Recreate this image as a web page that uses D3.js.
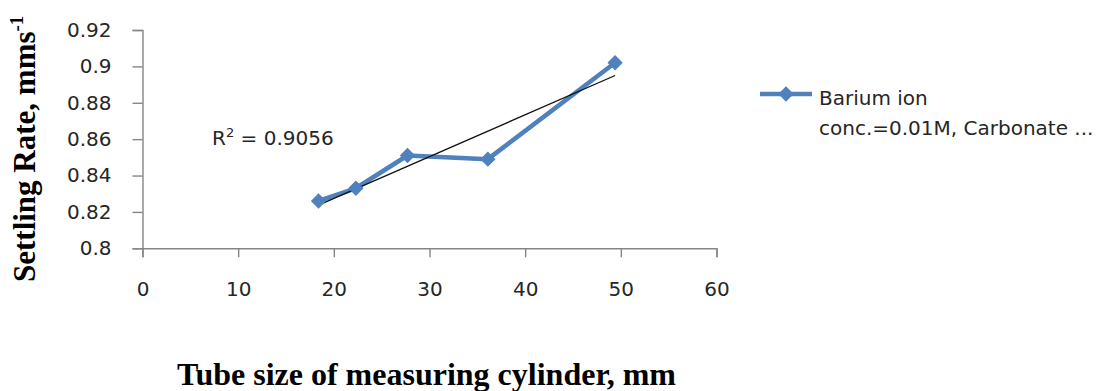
<!DOCTYPE html>
<html>
<head>
<meta charset="utf-8">
<script src="https://cdn.jsdelivr.net/npm/d3@7"></script>
<style>
  body { margin: 0; background: #fff; }
  svg { display: block; }
</style>
</head>
<body>
<svg id="chart" width="1103" height="391"></svg>
<script>
// values
var tubeSize = [18.4, 22.3, 27.7, 36.1, 49.4];
var settlingRate = [0.826, 0.833, 0.851, 0.849, 0.902];
var xTicks = [0, 10, 20, 30, 40, 50, 60];
var yTicks = [0.8, 0.82, 0.84, 0.86, 0.88, 0.9, 0.92];
var seriesName = ["Barium ion", "conc.=0.01M, Carbonate ..."];
var r2Label = "0.9056";

var blue = "#4F81BD";
var axisGray = "#868686";
var sans = "'DejaVu Sans', Verdana, sans-serif";
var serif = "'Liberation Serif', 'DejaVu Serif', serif";

var svg = d3.select("#chart");

var x = d3.scaleLinear().domain([0, 60]).range([142.5, 716.5]);
var y = d3.scaleLinear().domain([0.8, 0.92]).range([248.3, 30]);

// y axis
var yAxis = d3.axisLeft(y).tickValues(yTicks).tickSize(10).tickSizeOuter(10).tickPadding(21)
    .tickFormat(function(d) { return String(+d.toFixed(2)); });
var gy = svg.append("g").attr("transform", "translate(" + x(0) + ",0)").call(yAxis);
gy.select(".domain").attr("stroke", axisGray).attr("stroke-width", 1.4);
gy.selectAll(".tick line").attr("stroke", axisGray).attr("stroke-width", 1.4);
gy.selectAll(".tick text").style("font-family", sans).style("font-size", "20px").attr("fill", "#262626");

// x axis
var xAxis = d3.axisBottom(x).tickValues(xTicks).tickSize(9).tickSizeOuter(9).tickPadding(25);
var gx = svg.append("g").attr("transform", "translate(0," + y(0.8) + ")").call(xAxis);
gx.select(".domain").attr("stroke", axisGray).attr("stroke-width", 1.4);
gx.selectAll(".tick line").attr("stroke", axisGray).attr("stroke-width", 1.4);
gx.selectAll(".tick text").style("font-family", sans).style("font-size", "20px").attr("fill", "#262626");

// data table
var points = tubeSize.map(function(d, i) { return { x: d, y: settlingRate[i] }; });

// series line
var line = d3.line().x(function(d) { return x(d.x); }).y(function(d) { return y(d.y); });
svg.append("path")
    .datum(points)
    .attr("d", line)
    .attr("fill", "none")
    .attr("stroke", blue)
    .attr("stroke-width", 4.5)
    .attr("stroke-linejoin", "round");

// linear trendline (least squares)
var mx = d3.mean(tubeSize), my = d3.mean(settlingRate);
var sxy = d3.sum(points, function(d) { return (d.x - mx) * (d.y - my); });
var sxx = d3.sum(points, function(d) { return (d.x - mx) * (d.x - mx); });
var slope = sxy / sxx, intercept = my - slope * mx;
var trend = d3.extent(tubeSize).map(function(v) { return { x: v, y: intercept + slope * v }; });
svg.append("path")
    .datum(trend)
    .attr("d", line)
    .attr("fill", "none")
    .attr("stroke", "#111")
    .attr("stroke-width", 1.3);

// diamond markers
var diamond = d3.symbol().type(d3.symbolDiamond2).size(150);
svg.selectAll(".marker")
    .data(points)
    .enter()
    .append("path")
    .attr("class", "marker")
    .attr("d", diamond)
    .attr("transform", function(d) { return "translate(" + x(d.x) + "," + y(d.y) + ")"; })
    .attr("fill", blue);

// R squared label
var r2 = svg.append("text")
    .attr("x", 212).attr("y", 145)
    .style("font-family", sans).style("font-size", "20px").attr("fill", "#262626");
r2.append("tspan").text("R");
r2.append("tspan").attr("dy", -8).style("font-size", "13px").text("2");
r2.append("tspan").attr("dy", 8).text(" = " + r2Label);

// axis titles
svg.append("text")
    .attr("transform", "translate(35,282) rotate(-90)")
    .attr("text-anchor", "start")
    .style("font-family", serif).style("font-size", "31px").style("font-weight", "bold")
    .call(function(t) {
        t.append("tspan").text("Settling Rate, mms");
        t.append("tspan").attr("dy", -12).style("font-size", "19px").text("-1");
    });

svg.append("text")
    .attr("x", 177).attr("y", 385)
    .attr("text-anchor", "start")
    .style("font-family", serif).style("font-size", "32px").style("font-weight", "bold")
    .text("Tube size of measuring cylinder, mm");

// legend
var lg = svg.append("g").attr("transform", "translate(760,94)");
lg.append("line").attr("x1", 0).attr("x2", 52).attr("y1", 0).attr("y2", 0)
    .attr("stroke", blue).attr("stroke-width", 4.5);
lg.append("path").attr("d", diamond).attr("transform", "translate(26,0)").attr("fill", blue);
lg.selectAll(".lgtext")
    .data(seriesName)
    .enter()
    .append("text")
    .attr("class", "lgtext")
    .attr("x", 59)
    .attr("y", function(d, i) { return 11 + i * 30; })
    .style("font-family", sans).style("font-size", "20px").attr("fill", "#262626")
    .text(function(d) { return d; });
</script>
</body>
</html>
